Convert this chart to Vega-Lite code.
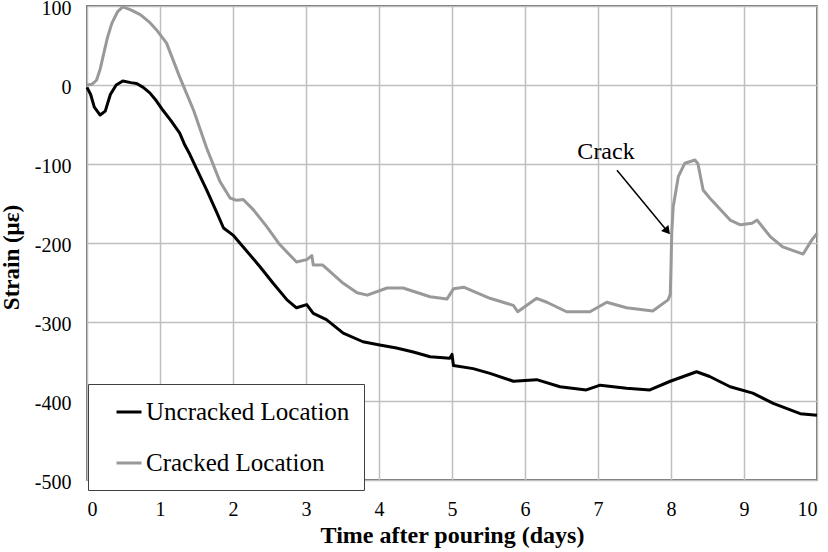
{
  "$schema": "https://vega.github.io/schema/vega-lite/v6.json",
  "width": 730,
  "height": 474,
  "autosize": "none",
  "padding": {"left": 87, "top": 6, "right": 11, "bottom": 72},
  "background": "white",
  "view": {"stroke": "#404040", "strokeWidth": 1.5},
  "config": {
    "font": "Liberation Serif",
    "axis": {
      "labelFont": "Liberation Serif",
      "titleFont": "Liberation Serif",
      "labelColor": "black",
      "titleColor": "black",
      "gridColor": "#bfbfbf",
      "gridWidth": 1.5,
      "gridOpacity": 1,
      "ticks": false,
      "domain": false
    },
    "legend": {
      "labelFont": "Liberation Serif"
    }
  },
  "datasets": {
    "strain": [
      {"day": 0, "strain": -3, "series": "Uncracked Location"},
      {"day": 0.05, "strain": -12, "series": "Uncracked Location"},
      {"day": 0.1, "strain": -28, "series": "Uncracked Location"},
      {"day": 0.18, "strain": -38, "series": "Uncracked Location"},
      {"day": 0.25, "strain": -33, "series": "Uncracked Location"},
      {"day": 0.32, "strain": -12, "series": "Uncracked Location"},
      {"day": 0.4, "strain": 0, "series": "Uncracked Location"},
      {"day": 0.49, "strain": 5, "series": "Uncracked Location"},
      {"day": 0.6, "strain": 3, "series": "Uncracked Location"},
      {"day": 0.68, "strain": 2, "series": "Uncracked Location"},
      {"day": 0.77, "strain": -3, "series": "Uncracked Location"},
      {"day": 0.86, "strain": -10, "series": "Uncracked Location"},
      {"day": 0.95, "strain": -20, "series": "Uncracked Location"},
      {"day": 1.04, "strain": -32, "series": "Uncracked Location"},
      {"day": 1.15, "strain": -45, "series": "Uncracked Location"},
      {"day": 1.27, "strain": -61, "series": "Uncracked Location"},
      {"day": 1.34, "strain": -76, "series": "Uncracked Location"},
      {"day": 1.41, "strain": -88, "series": "Uncracked Location"},
      {"day": 1.5, "strain": -106, "series": "Uncracked Location"},
      {"day": 1.64, "strain": -133, "series": "Uncracked Location"},
      {"day": 1.78, "strain": -162, "series": "Uncracked Location"},
      {"day": 1.87, "strain": -181, "series": "Uncracked Location"},
      {"day": 2.0, "strain": -190, "series": "Uncracked Location"},
      {"day": 2.14, "strain": -205, "series": "Uncracked Location"},
      {"day": 2.37, "strain": -230, "series": "Uncracked Location"},
      {"day": 2.55, "strain": -251, "series": "Uncracked Location"},
      {"day": 2.74, "strain": -272, "series": "Uncracked Location"},
      {"day": 2.87, "strain": -282, "series": "Uncracked Location"},
      {"day": 3.01, "strain": -278, "series": "Uncracked Location"},
      {"day": 3.1, "strain": -289, "series": "Uncracked Location"},
      {"day": 3.28, "strain": -297, "series": "Uncracked Location"},
      {"day": 3.51, "strain": -314, "series": "Uncracked Location"},
      {"day": 3.78, "strain": -325, "series": "Uncracked Location"},
      {"day": 4.01, "strain": -329, "series": "Uncracked Location"},
      {"day": 4.24, "strain": -333, "series": "Uncracked Location"},
      {"day": 4.47, "strain": -338, "series": "Uncracked Location"},
      {"day": 4.7, "strain": -344, "series": "Uncracked Location"},
      {"day": 4.97, "strain": -346, "series": "Uncracked Location"},
      {"day": 5.0, "strain": -341, "series": "Uncracked Location"},
      {"day": 5.02, "strain": -355, "series": "Uncracked Location"},
      {"day": 5.29, "strain": -359, "series": "Uncracked Location"},
      {"day": 5.52, "strain": -365, "series": "Uncracked Location"},
      {"day": 5.84, "strain": -375, "series": "Uncracked Location"},
      {"day": 6.16, "strain": -373, "series": "Uncracked Location"},
      {"day": 6.48, "strain": -382, "series": "Uncracked Location"},
      {"day": 6.84, "strain": -386, "series": "Uncracked Location"},
      {"day": 7.03, "strain": -380, "series": "Uncracked Location"},
      {"day": 7.39, "strain": -384, "series": "Uncracked Location"},
      {"day": 7.71, "strain": -386, "series": "Uncracked Location"},
      {"day": 7.99, "strain": -375, "series": "Uncracked Location"},
      {"day": 8.35, "strain": -363, "series": "Uncracked Location"},
      {"day": 8.53, "strain": -369, "series": "Uncracked Location"},
      {"day": 8.81, "strain": -382, "series": "Uncracked Location"},
      {"day": 9.12, "strain": -390, "series": "Uncracked Location"},
      {"day": 9.4, "strain": -403, "series": "Uncracked Location"},
      {"day": 9.77, "strain": -416, "series": "Uncracked Location"},
      {"day": 10, "strain": -418, "series": "Uncracked Location"},
      {"day": 0, "strain": 0, "series": "Cracked Location"},
      {"day": 0.07, "strain": 1, "series": "Cracked Location"},
      {"day": 0.13, "strain": 6, "series": "Cracked Location"},
      {"day": 0.18, "strain": 20, "series": "Cracked Location"},
      {"day": 0.22, "strain": 36, "series": "Cracked Location"},
      {"day": 0.28, "strain": 60, "series": "Cracked Location"},
      {"day": 0.34, "strain": 78, "series": "Cracked Location"},
      {"day": 0.42, "strain": 93, "series": "Cracked Location"},
      {"day": 0.49, "strain": 99, "series": "Cracked Location"},
      {"day": 0.6, "strain": 95, "series": "Cracked Location"},
      {"day": 0.73, "strain": 89, "series": "Cracked Location"},
      {"day": 0.85, "strain": 80, "series": "Cracked Location"},
      {"day": 0.95, "strain": 70, "series": "Cracked Location"},
      {"day": 1.09, "strain": 53, "series": "Cracked Location"},
      {"day": 1.27, "strain": 10, "series": "Cracked Location"},
      {"day": 1.46, "strain": -32, "series": "Cracked Location"},
      {"day": 1.64, "strain": -80, "series": "Cracked Location"},
      {"day": 1.82, "strain": -122, "series": "Cracked Location"},
      {"day": 1.96, "strain": -143, "series": "Cracked Location"},
      {"day": 2.05, "strain": -146, "series": "Cracked Location"},
      {"day": 2.14, "strain": -145, "series": "Cracked Location"},
      {"day": 2.28, "strain": -158, "series": "Cracked Location"},
      {"day": 2.46, "strain": -179, "series": "Cracked Location"},
      {"day": 2.64, "strain": -202, "series": "Cracked Location"},
      {"day": 2.87, "strain": -224, "series": "Cracked Location"},
      {"day": 3.01, "strain": -221, "series": "Cracked Location"},
      {"day": 3.08, "strain": -216, "series": "Cracked Location"},
      {"day": 3.1, "strain": -228, "series": "Cracked Location"},
      {"day": 3.23, "strain": -228, "series": "Cracked Location"},
      {"day": 3.51, "strain": -251, "series": "Cracked Location"},
      {"day": 3.7, "strain": -263, "series": "Cracked Location"},
      {"day": 3.84, "strain": -266, "series": "Cracked Location"},
      {"day": 4.11, "strain": -257, "series": "Cracked Location"},
      {"day": 4.33, "strain": -257, "series": "Cracked Location"},
      {"day": 4.7, "strain": -268, "series": "Cracked Location"},
      {"day": 4.93, "strain": -271, "series": "Cracked Location"},
      {"day": 5.02, "strain": -258, "series": "Cracked Location"},
      {"day": 5.16, "strain": -256, "series": "Cracked Location"},
      {"day": 5.52, "strain": -270, "series": "Cracked Location"},
      {"day": 5.84, "strain": -279, "series": "Cracked Location"},
      {"day": 5.9, "strain": -287, "series": "Cracked Location"},
      {"day": 6.16, "strain": -270, "series": "Cracked Location"},
      {"day": 6.3, "strain": -275, "series": "Cracked Location"},
      {"day": 6.57, "strain": -287, "series": "Cracked Location"},
      {"day": 6.89, "strain": -287, "series": "Cracked Location"},
      {"day": 7.12, "strain": -275, "series": "Cracked Location"},
      {"day": 7.39, "strain": -282, "series": "Cracked Location"},
      {"day": 7.75, "strain": -286, "series": "Cracked Location"},
      {"day": 7.96, "strain": -272, "series": "Cracked Location"},
      {"day": 7.99, "strain": -265, "series": "Cracked Location"},
      {"day": 8.0, "strain": -230, "series": "Cracked Location"},
      {"day": 8.01, "strain": -188, "series": "Cracked Location"},
      {"day": 8.03, "strain": -154, "series": "Cracked Location"},
      {"day": 8.1, "strain": -116, "series": "Cracked Location"},
      {"day": 8.19, "strain": -99, "series": "Cracked Location"},
      {"day": 8.33, "strain": -95, "series": "Cracked Location"},
      {"day": 8.37, "strain": -100, "series": "Cracked Location"},
      {"day": 8.44, "strain": -133, "series": "Cracked Location"},
      {"day": 8.53, "strain": -143, "series": "Cracked Location"},
      {"day": 8.81, "strain": -171, "series": "Cracked Location"},
      {"day": 8.95, "strain": -177, "series": "Cracked Location"},
      {"day": 9.11, "strain": -175, "series": "Cracked Location"},
      {"day": 9.18, "strain": -171, "series": "Cracked Location"},
      {"day": 9.36, "strain": -192, "series": "Cracked Location"},
      {"day": 9.53, "strain": -205, "series": "Cracked Location"},
      {"day": 9.81, "strain": -214, "series": "Cracked Location"},
      {"day": 9.93, "strain": -196, "series": "Cracked Location"},
      {"day": 10, "strain": -188, "series": "Cracked Location"}
    ],
    "arrow": [
      {"x": 7.26, "y": -108, "x2": 7.95, "y2": -185, "label": "Crack", "lx": 7.11, "ly": -85}
    ]
  },
  "layer": [
    {
      "data": {"name": "strain"},
      "mark": {"type": "line", "strokeWidth": 3, "strokeJoin": "round"},
      "encoding": {
        "x": {
          "field": "day",
          "type": "quantitative",
          "scale": {"domain": [0, 10], "nice": false},
          "axis": {
            "title": "Time after pouring (days)",
            "titleFontSize": 24,
            "titleFontWeight": "bold",
            "titlePadding": 4,
            "labelFontSize": 20,
            "labelPadding": 19,
            "values": [0, 0.5, 1, 1.5, 2, 2.5, 3, 3.5, 4, 4.5, 5, 5.5, 6, 6.5, 7, 7.5, 8, 8.5, 9, 9.5, 10],
            "labelExpr": "datum.value % 1 === 0 ? '' + datum.value : ''",
            "labelOverlap": false
          }
        },
        "y": {
          "field": "strain",
          "type": "quantitative",
          "scale": {"domain": [-500, 100], "nice": false},
          "axis": {
            "title": "Strain (με)",
            "titleFontSize": 23,
            "titleFontWeight": "bold",
            "titleX": -64,
            "titleY": 251,
            "titleAngle": 270,
            "titleAlign": "center",
            "titleBaseline": "bottom",
            "labelFontSize": 20,
            "labelPadding": 16,
            "labelOffset": 2,
            "values": [-500, -400, -300, -200, -100, 0, 100],
            "labelExpr": "'' + datum.value"
          }
        },
        "color": {
          "field": "series",
          "type": "nominal",
          "sort": ["Uncracked Location", "Cracked Location"],
          "scale": {"domain": ["Uncracked Location", "Cracked Location"], "range": ["#000000", "#999999"]},
          "legend": {
            "title": null,
            "orient": "none",
            "legendX": 1,
            "legendY": 378,
            "fillColor": "white",
            "strokeColor": "#404040",
            "padding": 14,
            "symbolOffset": 13,
            "symbolType": "stroke",
            "symbolSize": 625,
            "symbolStrokeWidth": 3,
            "labelFontSize": 25,
            "labelColor": "black",
            "labelOffset": 3,
            "labelLimit": 400,
            "rowPadding": 24
          }
        }
      }
    },
    {
      "data": {"name": "arrow"},
      "mark": {"type": "rule", "color": "black", "strokeWidth": 1.5},
      "encoding": {
        "x": {"field": "x", "type": "quantitative"},
        "y": {"field": "y", "type": "quantitative"},
        "x2": {"field": "x2"},
        "y2": {"field": "y2"}
      }
    },
    {
      "data": {"name": "arrow"},
      "mark": {"type": "point", "shape": "triangle-up", "filled": true, "color": "black", "size": 90, "angle": 141, "opacity": 1},
      "encoding": {
        "x": {"field": "x2", "type": "quantitative"},
        "y": {"field": "y2", "type": "quantitative"}
      }
    },
    {
      "data": {"name": "arrow"},
      "mark": {"type": "text", "fontSize": 24, "font": "Liberation Serif", "color": "black"},
      "encoding": {
        "x": {"field": "lx", "type": "quantitative"},
        "y": {"field": "ly", "type": "quantitative"},
        "text": {"field": "label"}
      }
    }
  ]
}
